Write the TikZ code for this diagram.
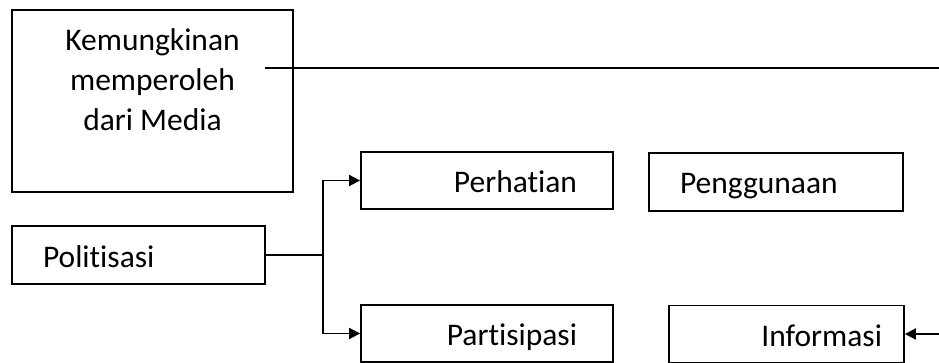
\documentclass[tikz,border=0pt]{standalone}
\usepackage{fontspec}
\setmainfont{Carlito}[RawFeature=-liga]
\usepackage{tikz}
\usetikzlibrary{arrows.meta,positioning,calc}

\begin{document}
\begin{tikzpicture}[x=1pt,y=-1pt,line width=1.8pt,box/.style={draw,inner ysep=0pt,minimum height=57pt,text height=24pt,text depth=0pt,font=\fontsize{31.5}{40}\selectfont},arrow/.style={-{Triangle[length=11pt,width=11pt]}}]
  \useasboundingbox (0,0) rectangle (939,363);
  \node[draw,minimum width=281pt,minimum height=182pt,align=center,font=\fontsize{31.5}{40}\selectfont] (media) at (152.5,101) {Kemungkinan\\memperoleh\\dari Media\\[2pt]~};
  \node[box,inner xsep=36pt] (perhatian) at (487,180.5) {\makebox[180pt][r]{Perhatian}};
  \node[box,inner xsep=31pt,minimum height=58pt] (penggunaan) at (776,182) {\makebox[192pt][l]{Penggunaan}};
  \node[box,inner xsep=31pt,minimum height=58pt] (politisasi) at (138.5,255) {\makebox[191pt][l]{Politisasi}};
  \node[box,inner xsep=36pt] (partisipasi) at (487,333.5) {\makebox[180pt][r]{Partisipasi}};
  \node[box,inner xsep=22pt] (informasi) at (786.5,334) {\makebox[191pt][r]{Informasi}};
  \coordinate (mline) at (265,68);
  \coordinate (rtop) at (939,68);
  \coordinate (rbottom) at (939,334);
  \draw (mline)--(rtop);
  \draw (politisasi.east)--++(57,0) coordinate (branch);
  \draw[arrow] (branch)|-(perhatian.west);
  \draw[arrow] (branch)|-(partisipasi.west);
  \draw[arrow] (rbottom)--(informasi.east);
\end{tikzpicture}
\end{document}
